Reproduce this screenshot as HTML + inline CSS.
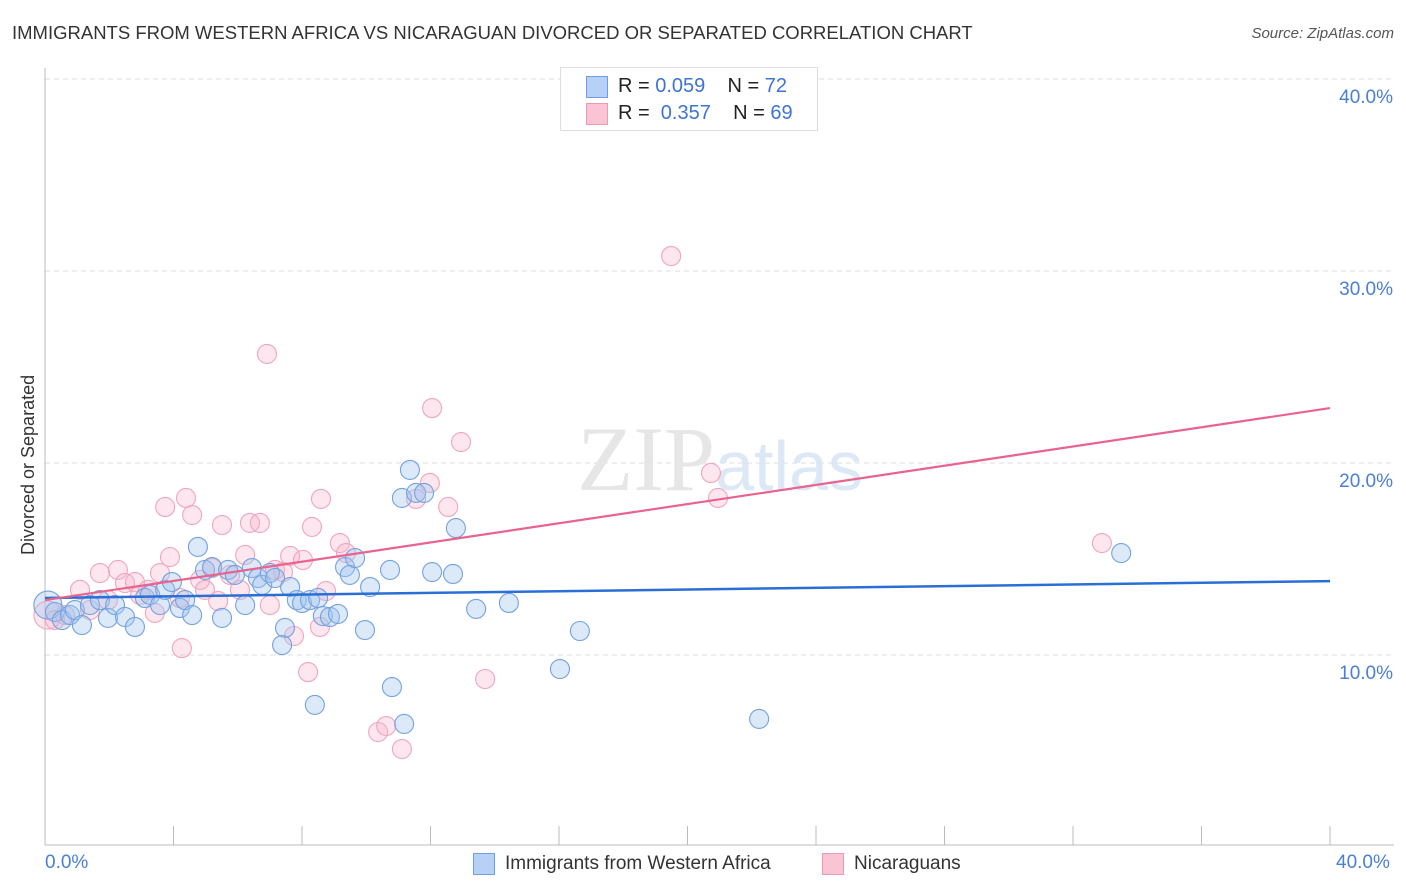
<!DOCTYPE html>
<html><head><meta charset="utf-8"><style>
body{margin:0;background:#fff;font-family:"Liberation Sans",sans-serif}
#wrap{position:relative;width:1406px;height:892px}
.t{position:absolute;white-space:nowrap}
</style></head><body>
<div id="wrap">
<div class="t" style="left:12px;top:22px;font-size:18.5px;color:#333">IMMIGRANTS FROM WESTERN AFRICA VS NICARAGUAN DIVORCED OR SEPARATED CORRELATION CHART</div>
<div class="t" style="right:12px;top:25px;font-size:15px;color:#555;font-style:italic">Source: ZipAtlas.com</div>
<svg id="svg" width="1406" height="892" style="position:absolute;left:0;top:0"></svg>
</div>
<script>
const yTicks=[10,20,30,40];
const tickLabels=["10.0%","20.0%","30.0%","40.0%"];
const blueX=[0.09,0.31,0.53,0.78,0.93,1.15,1.40,1.71,1.96,2.18,2.49,2.80,3.11,3.27,3.58,3.74,3.95,4.20,4.36,4.58,4.76,4.98,5.20,5.51,5.70,5.91,6.23,6.44,6.63,6.76,7.00,7.16,7.47,7.38,7.63,7.84,8.00,8.25,8.40,8.50,8.65,8.87,9.12,9.34,9.49,9.65,9.96,10.12,10.74,10.80,11.18,11.11,11.36,11.55,11.80,12.05,12.70,12.79,13.42,14.44,16.03,16.65,22.23,33.50];
const blueY=[12.6,12.24,11.82,12.08,12.34,11.56,12.6,12.86,11.93,12.6,11.98,11.46,12.97,13.13,12.6,13.39,13.8,12.45,12.86,12.08,15.63,14.43,14.58,11.93,14.43,14.17,12.6,14.53,14.01,13.65,14.27,14.01,11.41,10.52,13.54,12.86,12.71,12.86,7.40,12.97,12.03,11.98,12.14,14.58,14.17,15.05,11.30,13.54,14.43,8.33,6.41,18.18,19.64,18.44,18.44,14.32,14.22,16.61,12.40,12.71,9.27,11.25,6.67,15.31];
const pinkX=[0.09,0.31,0.62,1.09,1.40,1.71,1.96,2.27,2.49,2.80,2.96,3.21,3.42,3.58,3.74,3.89,4.20,4.26,4.39,4.58,4.83,4.98,5.20,5.39,5.51,5.76,6.07,6.23,6.38,6.69,6.91,7.00,7.16,7.41,7.63,7.75,8.03,8.19,8.31,8.56,8.59,8.75,9.18,9.37,10.37,10.62,11.11,11.55,11.98,12.05,12.55,12.95,13.70,19.49,20.73,20.95,32.90];
const pinkY=[12.08,11.82,12.08,13.39,12.34,14.27,12.86,14.43,13.75,13.8,13.13,13.39,12.19,14.27,17.71,15.10,12.97,10.36,18.18,17.29,13.91,13.39,14.53,12.81,16.77,14.17,13.39,15.21,16.88,16.88,25.68,12.6,14.43,14.32,15.16,10.99,14.95,9.11,16.67,11.46,18.13,13.33,15.83,15.31,5.99,6.30,5.10,18.13,18.96,22.86,17.71,21.09,8.75,30.78,19.48,18.18,15.83];
const blueTrend=[12.97,13.85];
const pinkTrend=[12.86,22.86];
const NS="http://www.w3.org/2000/svg";
const svg=document.getElementById('svg');
const X=v=>45+v/40*1285, Y=v=>847-v*19.2;
function mk(tag,a){const e=document.createElementNS(NS,tag);for(const k in a)e.setAttribute(k,a[k]);svg.appendChild(e);return e;}
yTicks.forEach((t,i)=>{
 const g=mk('line',{x1:45,x2:1394,y1:Y(t),y2:Y(t),stroke:'#ddd','stroke-dasharray':'5,4'});
 
 
 const l=mk('text',{x:1393,y:Y(t)+24,'text-anchor':'end','font-size':19,fill:'#4a7fd6','font-family':'Liberation Sans'});
 l.textContent=tickLabels[i];
 
 
});
let a=mk('line',{x1:45,x2:45,y1:68,y2:845,stroke:'#bbb'});

a=mk('line',{x1:45,x2:1394,y1:845,y2:845,stroke:'#bbb'});

for(let i=1;i<=10;i++){const t=mk('line',{x1:X(i*4),x2:X(i*4),y1:826,y2:845,stroke:'#bbb'});

}
const wm=mk('text',{x:720,y:490,'text-anchor':'middle','font-size':92,fill:'#e6e6e6','font-family':'Liberation Serif'});
wm.innerHTML='ZIP<tspan fill="#dce8f6" font-family="Liberation Sans" font-size="70">atlas</tspan>';

function pts(xs,ys,fill,stroke,name){xs.forEach((x,i)=>{const c=mk('circle',{cx:X(x),cy:Y(ys[i]),r:i==0?14:9.5,fill:fill,stroke:stroke,'stroke-width':1.1});

});}
pts(pinkX,pinkY,'rgba(248,180,200,0.33)','#f0a5bc','nicaraguan-point');
pts(blueX,blueY,'rgba(160,196,240,0.38)','#74a1e2','western-africa-point');
let tl=mk('line',{x1:X(0),x2:X(40),y1:Y(blueTrend[0]),y2:Y(blueTrend[1]),stroke:'#2a6fd6','stroke-width':2.5});

tl=mk('line',{x1:X(0),x2:X(40),y1:Y(pinkTrend[0]),y2:Y(pinkTrend[1]),stroke:'#e8648e','stroke-width':2.2});

</script>
<div class="t" style="left:18px;top:555px;transform:rotate(-90deg);transform-origin:0 0;font-size:18px;color:#333">Divorced or Separated</div>
<div class="t" style="left:45px;top:852px;font-size:19px;color:#4a7fd6">0.0%</div>
<div class="t" style="left:1336px;top:852px;font-size:19px;color:#4a7fd6">40.0%</div>
<div class="t" style="left:560px;top:67px;width:256px;height:62px;border:1px solid #ddd;background:#fff">
 <div style="position:absolute;left:25px;top:8px;width:20px;height:20px;background:#b6d1f5;border:1px solid #6f9de0"></div>
 <div style="position:absolute;left:57px;top:7px;font-size:20px;color:#222">R = <span style="color:#3d74d3">0.059</span>&nbsp;&nbsp;&nbsp; N = <span style="color:#3d74d3">72</span></div>
 <div style="position:absolute;left:25px;top:35px;width:20px;height:20px;background:#f9c5d4;border:1px solid #ee98b2"></div>
 <div style="position:absolute;left:57px;top:34px;font-size:20px;color:#222">R = &nbsp;<span style="color:#3d74d3">0.357</span>&nbsp;&nbsp;&nbsp; N = <span style="color:#3d74d3">69</span></div>
</div>
<div class="t" style="left:473px;top:853px;width:20px;height:20px;background:#b6d1f5;border:1px solid #6f9de0"></div>
<div class="t" style="left:505px;top:853px;font-size:19px;color:#333">Immigrants from Western Africa</div>
<div class="t" style="left:822px;top:853px;width:20px;height:20px;background:#f9c5d4;border:1px solid #ee98b2"></div>
<div class="t" style="left:854px;top:853px;font-size:19px;color:#333">Nicaraguans</div>
</body></html>
